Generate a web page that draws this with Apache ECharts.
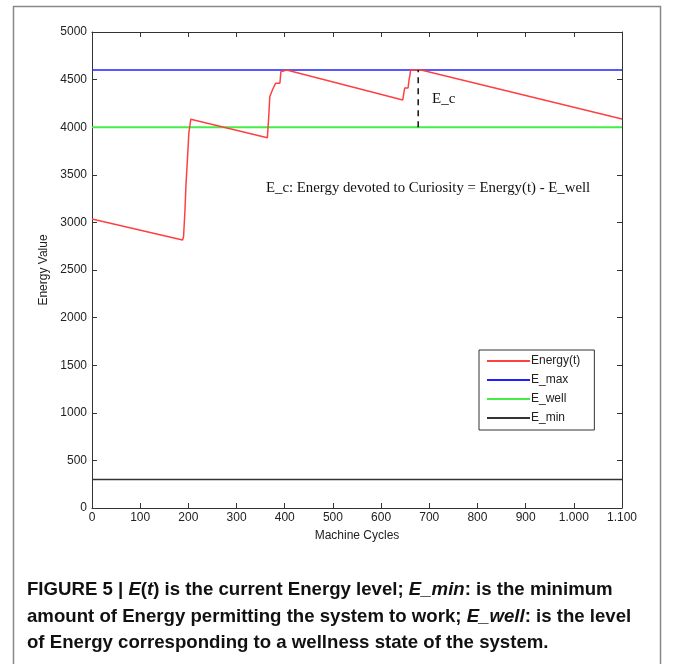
<!DOCTYPE html>
<html>
<head>
<meta charset="utf-8">
<script src="https://cdn.jsdelivr.net/npm/echarts@6/dist/echarts.min.js"></script>
<style>
html,body{margin:0;padding:0;background:#fff;}
#c{width:673px;height:664px;}
</style>
</head>
<body>
<div id="c"></div>
<script>
// ---- data ----
var energyX = [0, 188, 190, 193, 195, 198, 201, 205, 364, 366, 367, 369, 373, 376, 381, 390, 392, 394, 404, 645, 648, 649, 656, 658, 660, 661, 683, 1100];
var energyY = [3036, 2815, 2850, 3130, 3393, 3655, 3939, 4083, 3890, 3900, 4128, 4320, 4373, 4409, 4461, 4461, 4583, 4600, 4600, 4286, 4300, 4412, 4412, 4496, 4550, 4600, 4600, 4086];
var levelNames = ['E_max', 'E_well', 'E_min'];
var levelValues = [4600, 4000, 300];
var xRange = [0, 1100];
var ecX = 677;
var ecRange = [4000, 4600];
var xTicks = ['0','100','200','300','400','500','600','700','800','900','1.000','1.100'];

function pairs(xs, ys){ return xs.map(function(x,i){ return [x, ys[i]]; }); }

var chart = echarts.init(document.getElementById('c'), null, {renderer:'canvas'});
var labelFont = {fontFamily:'Liberation Sans, Arial, sans-serif', fontSize:12, color:'#222'};
var lineCol = '#333';
function axisCommon(extra){
  var a = {
    type:'value', splitLine:{show:false},
    axisLine:{show:true, onZero:false, lineStyle:{color:lineCol, width:1}},
    axisTick:{show:true, inside:true, length:5, lineStyle:{color:lineCol}}
  };
  for (var k in extra) a[k] = extra[k];
  return a;
}
var xLab = function(v){ return xTicks[Math.round(v/100)]; };
var yLab = function(v){ return String(v); };
var capFont = '"Liberation Sans", Arial, sans-serif';
var option = {
  animation:false,
  backgroundColor:'#fff',
  grid:{left:92, right:51, top:32, bottom:156},
  xAxis:[
    axisCommon({position:'bottom', min:xRange[0], max:xRange[1], interval:100,
      name:'Machine Cycles', nameLocation:'middle', nameGap:22,
      nameTextStyle:{fontFamily:'Liberation Sans, Arial, sans-serif', fontSize:12, color:'#222'},
      axisLabel:Object.assign({margin:4, formatter:xLab}, labelFont)}),
    axisCommon({position:'top', min:xRange[0], max:xRange[1], interval:100, axisLabel:{show:false}})
  ],
  yAxis:[
    axisCommon({position:'left', min:0, max:5000, interval:500,
      name:'Energy Value', nameLocation:'middle', nameGap:40, nameRotate:90,
      nameTextStyle:{fontFamily:'Liberation Sans, Arial, sans-serif', fontSize:12, color:'#222'},
      axisLabel:Object.assign({margin:5, formatter:yLab}, labelFont)}),
    axisCommon({position:'right', min:0, max:5000, interval:500, axisLabel:{show:false}})
  ],
  legend:{
    orient:'vertical', left:479, top:350,
    data:['Energy(t)','E_max','E_well','E_min'],
    itemWidth:43, itemHeight:12, itemGap:7,
    padding:[5,14,6,7],
    itemStyle:{opacity:0},
    borderColor:'#333', borderWidth:1, backgroundColor:'#fff',
    textStyle:{fontFamily:'Liberation Sans, Arial, sans-serif', fontSize:12, color:'#222', padding:[0,0,0,-4]}
  },
  series:[
    {name:'Energy(t)', type:'line', data:pairs(energyX, energyY), symbol:'none', z:5,
     lineStyle:{color:'#ff4040', width:1.5}, itemStyle:{color:'#ff4040'}},
    {name:levelNames[0], type:'line', data:[[xRange[0],levelValues[0]],[xRange[1],levelValues[0]]], symbol:'none',
     lineStyle:{color:'#2020ff', width:1.5}, itemStyle:{color:'#2020ff'}},
    {name:levelNames[1], type:'line', data:[[xRange[0],levelValues[1]],[xRange[1],levelValues[1]]], symbol:'none',
     lineStyle:{color:'#44ee44', width:2}, itemStyle:{color:'#44ee44'}},
    {name:levelNames[2], type:'line', data:[[xRange[0],levelValues[2]],[xRange[1],levelValues[2]]], symbol:'none',
     lineStyle:{color:'#333', width:1.5}, itemStyle:{color:'#333'}},
    {name:'E_c', type:'line', data:[[ecX,ecRange[0]],[ecX,ecRange[1]]], symbol:'none', z:6,
     lineStyle:{color:'#111', width:1.5, type:[6,5]}}
  ],
  graphic:[
    {type:'rect', shape:{x:13.5, y:6.5, width:647, height:700}, style:{fill:'none', stroke:'#888', lineWidth:1.5}, silent:true},
    {type:'text', left:432, top:92, style:{text:'E_c', font:'15px "Liberation Serif", serif', fill:'#111'}},
    {type:'text', left:266, top:181, style:{text:'E_c: Energy devoted to Curiosity = Energy(t) - E_well', font:'14.8px "Liberation Serif", serif', fill:'#111'}},
    {type:'text', x:27, y:577, scaleX:0.98, style:{
      rich:{
        b:{font:'bold 19px ' + capFont, fill:'#111', lineHeight:26.5},
        i:{font:'italic bold 19px ' + capFont, fill:'#111', lineHeight:26.5}
      },
      text:'{b|FIGURE 5 | }{i|E}{b|(}{i|t}{b|) is the current Energy level; }{i|E_min}{b|: is the minimum}\n' +
           '{b|amount of Energy permitting the system to work; }{i|E_well}{b|: is the level}\n' +
           '{b|of Energy corresponding to a wellness state of the system.}'
    }}
  ]
};
chart.setOption(option);
</script>
</body>
</html>
